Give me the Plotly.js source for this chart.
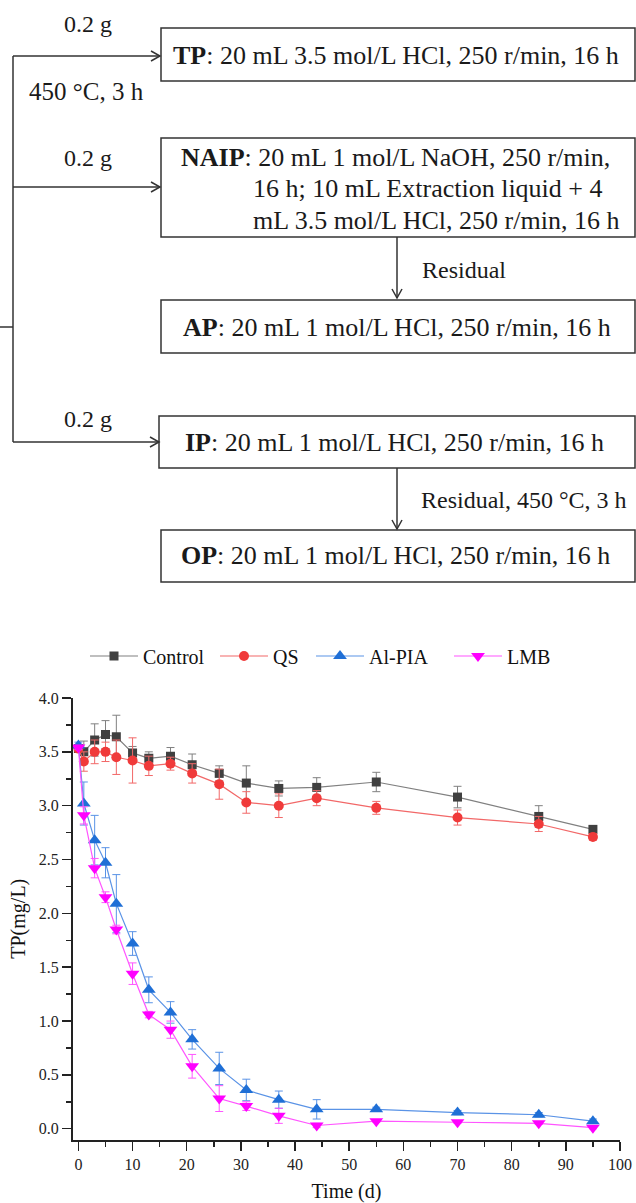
<!DOCTYPE html>
<html>
<head>
<meta charset="utf-8">
<script src="https://cdn.plot.ly/plotly-3.0.1.min.js"></script>
<style>html,body{margin:0;padding:0;background:#fff;}#chart{width:636px;height:1203px;}</style>
</head>
<body>
<div id="chart"></div>
<script>
// ---------- data ----------
const timeDays = [0, 1, 3, 5, 7, 10, 13, 17, 21, 26, 31, 37, 44, 55, 70, 85, 95];
const controlTP = [3.53, 3.50, 3.61, 3.66, 3.64, 3.49, 3.44, 3.46, 3.38, 3.30, 3.21, 3.16, 3.17, 3.22, 3.08, 2.90, 2.78];
const controlErr = [0.03, 0.10, 0.15, 0.13, 0.20, 0.06, 0.06, 0.08, 0.10, 0.07, 0.16, 0.07, 0.09, 0.09, 0.10, 0.10, 0.03];
const qsTP = [3.53, 3.41, 3.50, 3.50, 3.45, 3.42, 3.37, 3.39, 3.30, 3.20, 3.03, 3.00, 3.07, 2.98, 2.89, 2.83, 2.71];
const qsErr = [0.03, 0.09, 0.11, 0.09, 0.16, 0.21, 0.09, 0.06, 0.09, 0.14, 0.10, 0.11, 0.07, 0.06, 0.07, 0.07, 0.03];
const alpiaTP = [3.56, 3.02, 2.68, 2.47, 2.09, 1.72, 1.29, 1.08, 0.83, 0.56, 0.36, 0.27, 0.18, 0.18, 0.15, 0.13, 0.07];
const alpiaErr = [0.03, 0.20, 0.23, 0.14, 0.27, 0.11, 0.12, 0.10, 0.09, 0.15, 0.10, 0.08, 0.09, 0.02, 0.02, 0.02, 0.02];
const lmbTP = [3.54, 2.91, 2.42, 2.15, 1.85, 1.44, 1.06, 0.92, 0.58, 0.28, 0.21, 0.12, 0.03, 0.07, 0.06, 0.05, 0.01];
const lmbErr = [0.02, 0.08, 0.09, 0.05, 0.04, 0.10, 0.03, 0.08, 0.11, 0.12, 0.04, 0.07, 0.02, 0.01, 0.01, 0.01, 0.01];
const seriesNames = ["Control", "QS", "Al-PIA", "LMB"];
const xTickVals = [0, 10, 20, 30, 40, 50, 60, 70, 80, 90, 100];
const yTickVals = [0, 0.5, 1, 1.5, 2, 2.5, 3, 3.5, 4];
const yTickText = ["0.0", "0.5", "1.0", "1.5", "2.0", "2.5", "3.0", "3.5", "4.0"];

// flowchart texts
const boxTP = "<b>TP</b>: 20 mL 3.5 mol/L HCl, 250 r/min, 16 h";
const boxNAIP = ["<b>NAIP</b>: 20 mL 1 mol/L NaOH, 250 r/min,", "16 h; 10 mL Extraction liquid + 4", "mL 3.5 mol/L HCl, 250 r/min, 16 h"];
const boxAP = "<b>AP</b>: 20 mL 1 mol/L HCl, 250 r/min, 16 h";
const boxIP = "<b>IP</b>: 20 mL 1 mol/L HCl, 250 r/min, 16 h";
const boxOP = "<b>OP</b>: 20 mL 1 mol/L HCl, 250 r/min, 16 h";
const massLabel = "0.2 g";
const ashLabel = "450 \u00B0C, 3 h";
const residualLabel = "Residual";
const residualAshLabel = "Residual, 450 \u00B0C, 3 h";

// ---------- layout helpers ----------
const W = 636, H = 1203;
const fx = x => x / W, fy = y => 1 - y / H;
const SERIF = "Liberation Serif";
const LC = "#333333";
function seg(x0, y0, x1, y1) {
  return {type: "line", xref: "paper", yref: "paper", x0: fx(x0), y0: fy(y0), x1: fx(x1), y1: fy(y1), line: {color: LC, width: 1.5}};
}
function box(x0, y0, x1, y1) {
  return {type: "rect", xref: "paper", yref: "paper", x0: fx(x0), y0: fy(y0), x1: fx(x1), y1: fy(y1), line: {color: LC, width: 1.5}, fillcolor: "rgba(0,0,0,0)"};
}
function headRight(x, y) {
  return {type: "path", xref: "paper", yref: "paper", path: "M" + fx(x - 9) + "," + fy(y - 5) + " L" + fx(x) + "," + fy(y) + " L" + fx(x - 9) + "," + fy(y + 5), line: {color: LC, width: 1.5}};
}
function headDown(x, y) {
  return {type: "path", xref: "paper", yref: "paper", path: "M" + fx(x - 5) + "," + fy(y - 9) + " L" + fx(x) + "," + fy(y) + " L" + fx(x + 5) + "," + fy(y - 9), line: {color: LC, width: 1.5}};
}
function txt(x, y, text, size, anchor) {
  return {xref: "paper", yref: "paper", x: fx(x), y: fy(y), text: text, showarrow: false, xanchor: anchor || "left", yanchor: "middle",
          font: {family: SERIF, size: size, color: "#1a1a1a"}, borderpad: 0};
}

const shapes = [
  seg(0, 327, 13, 327),
  seg(13, 56, 13, 442),
  seg(13, 56, 160, 56), headRight(160, 56),
  seg(13, 187, 160, 187), headRight(160, 187),
  seg(13, 442, 159, 442), headRight(159, 442),
  box(161, 28, 635, 81),
  box(161, 138, 635, 237),
  box(161, 300, 635, 353),
  box(159, 416, 635, 468),
  box(161, 530, 635, 582),
  seg(397, 237, 397, 298), headDown(397, 298),
  seg(397, 468, 397, 529), headDown(397, 529)
];
const annotations = [
  txt(88, 24, massLabel, 24, "center"),
  txt(86, 91, ashLabel, 25, "center"),
  txt(88, 158, massLabel, 24, "center"),
  txt(88, 419, massLabel, 24, "center"),
  txt(172, 55, boxTP, 26),
  txt(180, 158, boxNAIP[0], 26),
  txt(252, 189, boxNAIP[1], 26),
  txt(252, 220, boxNAIP[2], 26),
  txt(421, 270, residualLabel, 24),
  txt(182, 327, boxAP, 26),
  txt(184, 442, boxIP, 26),
  txt(420, 500, residualAshLabel, 24),
  txt(180, 556, boxOP, 26)
];

// ---------- traces ----------
function series(name, y, err, mColor, lColor, symbol, size, legendId) {
  return {
    type: "scatter", mode: "lines+markers", name: name, x: timeDays, y: y,
    legend: legendId,
    line: {color: lColor, width: 1.2},
    marker: {symbol: symbol, size: size, color: mColor},
    error_y: {type: "data", array: err, visible: true, color: lColor, thickness: 1, width: 4}
  };
}
const traces = [
  series(seriesNames[0], controlTP, controlErr, "#404040", "#808080", "square", 9, "legend"),
  series(seriesNames[1], qsTP, qsErr, "#f03a3a", "#f26868", "circle", 10, "legend2"),
  series(seriesNames[2], alpiaTP, alpiaErr, "#1f6fd6", "#5a93e6", "triangle-up", 12, "legend3"),
  series(seriesNames[3], lmbTP, lmbErr, "#ff00ff", "#ff55ff", "triangle-down", 12, "legend4")
];

function legendAt(xPix) {
  return {x: fx(xPix), y: fy(656), xanchor: "left", yanchor: "middle", orientation: "h", itemwidth: 48,
          bgcolor: "rgba(0,0,0,0)", borderwidth: 0, font: {family: SERIF, size: 20, color: "#111"}};
}

const axisFont = {family: SERIF, size: 16, color: "#222"};
const layout = {
  width: W, height: H,
  font: {family: SERIF, color: "#222"},
  margin: {l: 0, r: 0, t: 0, b: 0},
  paper_bgcolor: "#ffffff", plot_bgcolor: "rgba(0,0,0,0)",
  showlegend: true,
  legend: legendAt(85),
  legend2: legendAt(215),
  legend3: legendAt(311),
  legend4: legendAt(449),
  xaxis: {
    domain: [73 / W, 620 / W], range: [-1, 100],
    tickmode: "array", tickvals: xTickVals,
    ticks: "outside", ticklen: 9, tickwidth: 1.5, tickcolor: "#222",
    minor: {dtick: 5, tick0: 0, ticks: "outside", ticklen: 5, tickwidth: 1.5, tickcolor: "#222"},
    showline: true, linecolor: "#222", linewidth: 2, showgrid: false, zeroline: false,
    tickfont: axisFont,
    title: {text: "Time (d)", font: {family: SERIF, size: 20, color: "#111"}, standoff: 12}
  },
  yaxis: {
    domain: [(H - 1139.5) / H, (H - 698) / H], range: [-0.1, 4.0],
    tickmode: "array", tickvals: yTickVals, ticktext: yTickText,
    ticks: "outside", ticklen: 9, tickwidth: 1.5, tickcolor: "#222",
    minor: {dtick: 0.25, tick0: 0, ticks: "outside", ticklen: 5, tickwidth: 1.5, tickcolor: "#222"},
    showline: true, linecolor: "#222", linewidth: 2, showgrid: false, zeroline: false,
    tickfont: axisFont,
    title: {text: "TP(mg/L)", font: {family: SERIF, size: 20, color: "#111"}, standoff: 8}
  },
  shapes: shapes,
  annotations: annotations
};

Plotly.newPlot("chart", traces, layout, {staticPlot: true, displayModeBar: false});
</script>
</body>
</html>
